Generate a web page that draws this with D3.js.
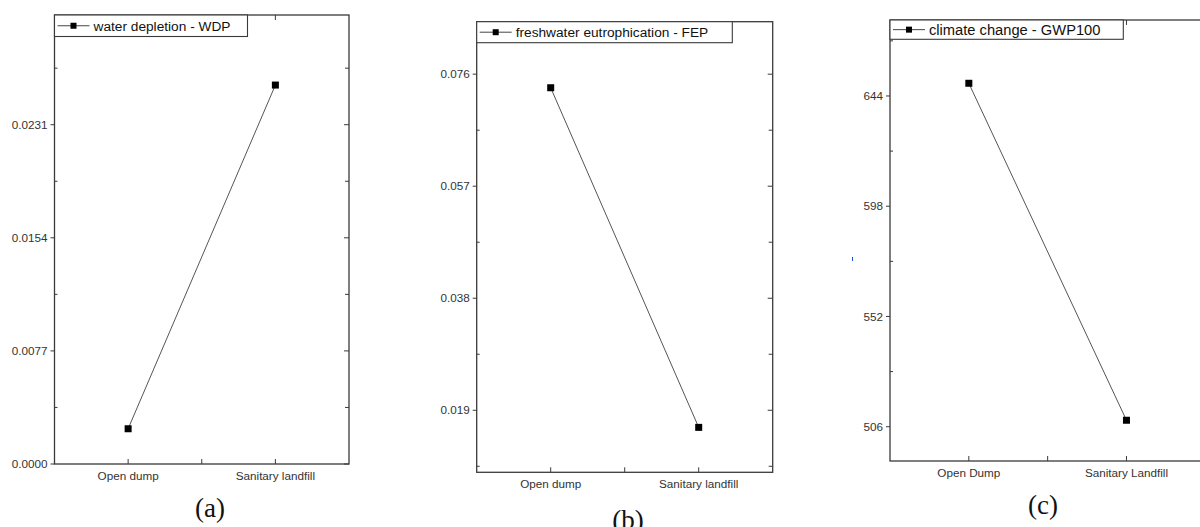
<!DOCTYPE html>
<html>
<head>
<meta charset="utf-8">
<script src="https://cdn.jsdelivr.net/npm/d3@7.9.0/dist/d3.min.js"></script>
<style>
  html, body { margin: 0; padding: 0; background: #fff; }
  svg { display: block; }
  .tick-label { font-family: Arial, "Liberation Sans", sans-serif; font-size: 11.7px; fill: #333; }
  .legend-text { font-family: Arial, "Liberation Sans", sans-serif; fill: #111; }
  .panel-label { font-family: "Liberation Serif", "Times New Roman", serif; font-size: 27px; fill: #111; }
</style>
</head>
<body>
<svg id="chart" width="1200" height="527"></svg>
<script>
// data
const categoriesA = ["Open dump", "Sanitary landfill"];
const categoriesB = ["Open dump", "Sanitary landfill"];
const categoriesC = ["Open Dump", "Sanitary Landfill"];

const wdpValues = [0.0024, 0.0258];
const fepValues = [0.0737, 0.0161];
const gwpValues = [649.3, 508.7];

const wdpTicks = [0.0000, 0.0077, 0.0154, 0.0231];
const fepTicks = [0.019, 0.038, 0.057, 0.076];
const gwpTicks = [506, 552, 598, 644];

const wdpDomain = [0, 0.03057];
const fepDomain = [0.00848, 0.0849];
const gwpDomain = [491.7, 675.7];

const svg = d3.select("#chart");

function drawPanel(p) {
  const g = svg.append("g");
  const x = d3.scalePoint().domain(p.categories).range([p.left, p.right]).padding(0.5);
  const y = d3.scaleLinear().domain(p.domain).range([p.bottom, p.top]);
  const axisColor = "#3a3a3a";

  // frame
  g.append("rect")
    .attr("x", p.left).attr("y", p.top)
    .attr("width", p.right - p.left).attr("height", p.bottom - p.top)
    .attr("fill", "none").attr("stroke", axisColor).attr("stroke-width", 1.3);

  // y ticks (major out on left, in on right)
  const step = p.ticks[1] - p.ticks[0];
  let minor = [];
  p.ticks.forEach(t => { minor.push(t - step / 2); minor.push(t + step / 2); });
  minor = Array.from(new Set(minor.map(v => +v.toFixed(6))))
    .filter(v => v > p.domain[0] && v < p.domain[1]);

  p.ticks.forEach(t => {
    g.append("line").attr("x1", p.left - 4).attr("x2", p.left)
      .attr("y1", y(t)).attr("y2", y(t)).attr("stroke", axisColor);
    g.append("line").attr("x1", p.right - 5).attr("x2", p.right)
      .attr("y1", y(t)).attr("y2", y(t)).attr("stroke", axisColor);
    g.append("text").attr("class", "tick-label")
      .attr("x", p.left - 7).attr("y", y(t)).attr("dy", "0.35em")
      .attr("text-anchor", "end").text(d3.format(p.fmt)(t));
  });
  minor.forEach(t => {
    g.append("line").attr("x1", p.left).attr("x2", p.left + 3)
      .attr("y1", y(t)).attr("y2", y(t)).attr("stroke", axisColor);
    g.append("line").attr("x1", p.right - 4).attr("x2", p.right)
      .attr("y1", y(t)).attr("y2", y(t)).attr("stroke", axisColor);
  });

  // x ticks, bottom and top, pointing in
  const xs = p.categories.map(c => x(c));
  const xTicks = [xs[0], (xs[0] + xs[1]) / 2, xs[1]];
  xTicks.forEach(xv => {
    g.append("line").attr("x1", xv).attr("x2", xv)
      .attr("y1", p.bottom - 5).attr("y2", p.bottom).attr("stroke", axisColor);
    g.append("line").attr("x1", xv).attr("x2", xv)
      .attr("y1", p.top).attr("y2", p.top + 5).attr("stroke", axisColor);
  });
  p.categories.forEach(c => {
    g.append("text").attr("class", "tick-label")
      .attr("x", x(c)).attr("y", p.bottom + 16)
      .attr("text-anchor", "middle").text(c);
  });

  // data line + markers
  const pts = p.categories.map((c, i) => [x(c), y(p.values[i])]);
  g.append("path").attr("d", d3.line()(pts))
    .attr("fill", "none").attr("stroke", "#555").attr("stroke-width", 1);
  g.selectAll("rect.pt").data(pts).join("rect").attr("class", "pt")
    .attr("x", d => d[0] - 3.5).attr("y", d => d[1] - 3.5)
    .attr("width", 7).attr("height", 7).attr("fill", "#000");

  // legend
  const lg = g.append("g");
  lg.append("rect").attr("x", p.left).attr("y", p.top)
    .attr("width", p.legendW).attr("height", p.legendH)
    .attr("fill", "#fff").attr("stroke", axisColor).attr("stroke-width", 1.1);
  const cy = p.top + p.legendH / 2;
  lg.append("line").attr("x1", p.left + 3).attr("x2", p.left + 35)
    .attr("y1", cy).attr("y2", cy).attr("stroke", "#444").attr("stroke-width", 1);
  lg.append("rect").attr("x", p.left + 19 - 3).attr("y", cy - 3)
    .attr("width", 6).attr("height", 6).attr("fill", "#000");
  lg.append("text").attr("class", "legend-text")
    .attr("x", p.left + 39).attr("y", cy).attr("dy", "0.36em")
    .style("font-size", p.legendFont + "px").text(p.legendLabel);

  // panel label
  svg.append("text").attr("class", "panel-label")
    .attr("x", p.labelX).attr("y", p.labelY)
    .attr("text-anchor", "middle").text(p.panelLabel);
}

drawPanel({
  categories: categoriesA, values: wdpValues, ticks: wdpTicks, domain: wdpDomain, fmt: ".4f",
  left: 54.5, right: 349, top: 15, bottom: 464,
  legendW: 193, legendH: 21.5, legendFont: 13.7, legendLabel: "water depletion - WDP",
  panelLabel: "(a)", labelX: 210, labelY: 517
});

drawPanel({
  categories: categoriesB, values: fepValues, ticks: fepTicks, domain: fepDomain, fmt: ".3f",
  left: 476.7, right: 772.7, top: 21.7, bottom: 472.3,
  legendW: 255.6, legendH: 21, legendFont: 13.7, legendLabel: "freshwater eutrophication - FEP",
  panelLabel: "(b)", labelX: 628, labelY: 529
});

drawPanel({
  categories: categoriesC, values: gwpValues, ticks: gwpTicks, domain: gwpDomain, fmt: "d",
  left: 890, right: 1205.3, top: 20, bottom: 461,
  legendW: 233.3, legendH: 19.3, legendFont: 14.7, legendLabel: "climate change - GWP100",
  panelLabel: "(c)", labelX: 1043, labelY: 514
});

// small blue stray mark left of panel (c)
svg.append("line").attr("x1", 852.5).attr("x2", 852.5).attr("y1", 257).attr("y2", 261)
  .attr("stroke", "#1a4fd0").attr("stroke-width", 1);
</script>
</body>
</html>
